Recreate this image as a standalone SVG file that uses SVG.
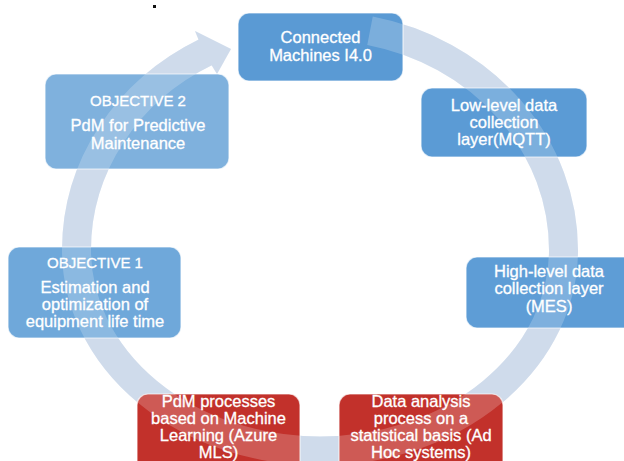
<svg xmlns="http://www.w3.org/2000/svg" xmlns:xlink="http://www.w3.org/1999/xlink" width="624" height="461" viewBox="0 0 624 461">
  <style>
    .box { stroke: #ffffff; stroke-width: 1.2; stroke-opacity: 0.7; }
    .blue { fill: #5b9bd5; }
    .red { fill: #c2312b; }
    .lbl { font-family: "Liberation Sans", Arial, sans-serif; font-size: 16.5px; fill: #ffffff; stroke: #ffffff; stroke-width: 0.3; text-anchor: middle; }
    .cap { font-size: 15px; }
  </style>
  <defs>
    <g id="ringShape">
      <path d="M 370 30.8 A 243.5 224 0 0 1 563.5 250 A 243.5 201 0 0 1 76.5 250 A 243.5 224 0 0 1 206 52" fill="none" stroke-width="29"/>
      <polygon points="195,31 231,49 217,74 204,53" stroke="none"/>
    </g>
  </defs>
  <rect width="624" height="461" fill="#ffffff"/>
  <rect x="153" y="5" width="3" height="3" fill="#111111"/>

  <g id="connectors">
    <use xlink:href="#ringShape" href="#ringShape" stroke="#c4d3e7" fill="#c4d3e7"/>
  </g>

  <g id="n1">
    <rect class="box blue" x="238" y="13" width="165" height="68" rx="11" style="fill:#5a9ad4"/>
  </g>
  <g id="n2">
    <rect class="box blue" x="421" y="88" width="166" height="69" rx="11"/>
  </g>
  <g id="n3">
    <rect class="box blue" x="466" y="257" width="170" height="71" rx="11" style="fill:#5e9dd6"/>
  </g>
  <g id="n4">
    <rect class="box red" x="339" y="394" width="164" height="80" rx="11"/>
  </g>
  <g id="n5">
    <rect class="box red" x="137" y="394" width="163" height="80" rx="11"/>
  </g>
  <g id="n6">
    <rect class="box" x="8" y="247" width="173" height="91" rx="11" style="fill:#6fa8da"/>
  </g>
  <g id="n7">
    <rect class="box" x="45" y="74" width="184" height="95" rx="11" style="fill:#7fb1dd"/>
  </g>

  <g id="ring-highlight" opacity="0.2">
    <use xlink:href="#ringShape" href="#ringShape" stroke="#ffffff" fill="#ffffff"/>
  </g>

  <g id="labels">
    <text class="lbl" x="320.5" y="43">Connected</text>
    <text class="lbl" x="320.5" y="61">Machines I4.0</text>

    <text class="lbl" x="504" y="111">Low-level data</text>
    <text class="lbl" x="504" y="128">collection</text>
    <text class="lbl" x="504" y="145">layer(MQTT)</text>

    <text class="lbl" x="549" y="277">High-level data</text>
    <text class="lbl" x="549" y="294">collection layer</text>
    <text class="lbl" x="549" y="312">(MES)</text>

    <text class="lbl" x="421" y="407">Data analysis</text>
    <text class="lbl" x="421" y="424">process on a</text>
    <text class="lbl" x="421" y="441">statistical basis (Ad</text>
    <text class="lbl" x="421" y="458">Hoc systems)</text>

    <text class="lbl" x="218.5" y="407">PdM processes</text>
    <text class="lbl" x="218.5" y="424">based on Machine</text>
    <text class="lbl" x="218.5" y="441">Learning (Azure</text>
    <text class="lbl" x="218.5" y="458">MLS)</text>

    <text class="lbl cap" x="95" y="268">OBJECTIVE 1</text>
    <text class="lbl" x="95" y="293">Estimation and</text>
    <text class="lbl" x="95" y="310">optimization of</text>
    <text class="lbl" x="95" y="327">equipment life time</text>

    <text class="lbl cap" x="138" y="106">OBJECTIVE 2</text>
    <text class="lbl" x="138" y="131">PdM for Predictive</text>
    <text class="lbl" x="138" y="149">Maintenance</text>
  </g>
</svg>
